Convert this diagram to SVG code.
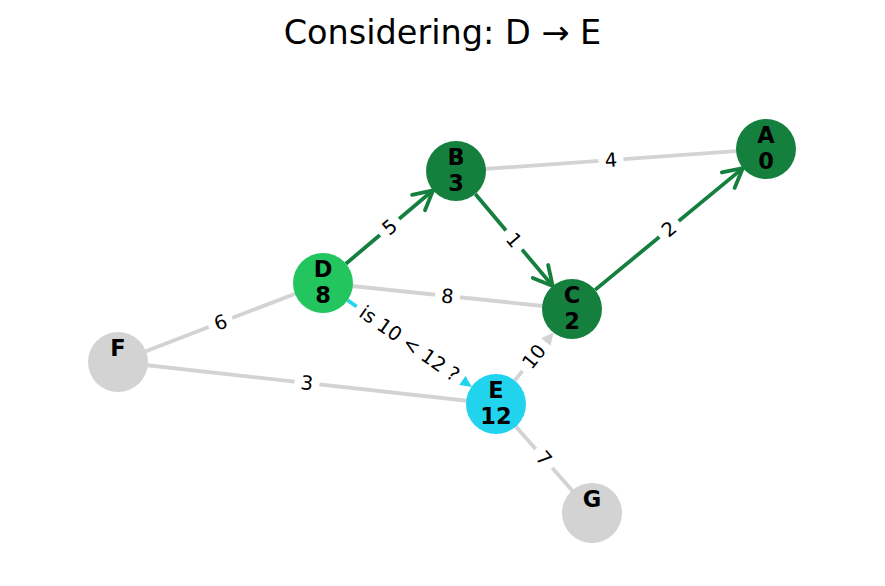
<svg xmlns="http://www.w3.org/2000/svg" width="885" height="586" viewBox="0 0 885 586">
<style>
  .title { font-family: "DejaVu Sans", sans-serif; font-size: 33.5px; fill: #000; }
  .nl { font-family: "DejaVu Sans", sans-serif; font-size: 22.5px; font-weight: bold; fill: #000; text-anchor: middle; }
  .el { font-family: "DejaVu Sans", sans-serif; font-size: 19.5px; fill: #000; text-anchor: middle; }
  .lbg { fill: #fff; stroke: #fff; }
  .gray { stroke: #d3d3d3; stroke-width: 3.8; fill: none; }
  .green { stroke: #15803d; stroke-width: 3.8; fill: none; }
  .cyan { stroke: #22d3ee; stroke-width: 3.8; fill: none; }
  .ndark { fill: #15803d; }
  .nlight { fill: #22c55e; }
  .ncyan { fill: #22d3ee; }
  .ngray { fill: #d3d3d3; }
</style>
<defs>
  <marker id="openG" markerUnits="userSpaceOnUse" viewBox="-24 -14 28 28" refX="0" refY="0" markerWidth="28" markerHeight="28" orient="auto">
    <path d="M-19,-10 L0,0 L-19,10" fill="none" stroke="#15803d" stroke-width="3.8" stroke-linejoin="round" stroke-linecap="round"/>
  </marker>
  <marker id="triC" markerUnits="userSpaceOnUse" viewBox="-2 -8 16 16" refX="2" refY="0" markerWidth="16" markerHeight="16" orient="auto">
    <path d="M0,-6 L12.5,0 L0,6 Z" fill="#22d3ee"/>
  </marker>
  <marker id="triG" markerUnits="userSpaceOnUse" viewBox="-2 -8 16 16" refX="2" refY="0" markerWidth="16" markerHeight="16" orient="auto">
    <path d="M0,-6 L12.5,0 L0,6 Z" fill="#d3d3d3"/>
  </marker>
</defs>
<rect width="885" height="586" fill="#fff"/>
<text class="title" x="442.5" y="44" text-anchor="middle">Considering: D → E</text>

<g id="connectors">
  <line class="gray" x1="456" y1="171" x2="766" y2="149"/>
  <line class="gray" x1="323" y1="283" x2="572" y2="309"/>
  <line class="gray" x1="118" y1="362" x2="323" y2="283"/>
  <line class="gray" x1="118" y1="362" x2="496" y2="404"/>
  <line class="gray" x1="496" y1="404" x2="592" y2="513"/>
  <line class="gray" x1="514.7" y1="380.6" x2="547.1" y2="340.4" marker-end="url(#triG)"/>
  <line class="green" x1="345.9" y1="263.7" x2="433.1" y2="190.3" marker-end="url(#openG)"/>
  <line class="green" x1="475.3" y1="194.0" x2="552.7" y2="286.0" marker-end="url(#openG)"/>
  <line class="green" x1="595.1" y1="289.9" x2="742.9" y2="168.1" marker-end="url(#openG)"/>
  <line class="cyan" x1="347.6" y1="300.2" x2="463.2" y2="381.1" marker-end="url(#triC)"/>

  <g transform="translate(611,160) rotate(-4.06)"><rect class="lbg" x="-12" y="-16" width="24" height="32" rx="5"/><text class="el" y="0" dy="0.35em">4</text></g>
  <g transform="translate(389.5,227) rotate(-40.1)"><rect class="lbg" x="-12" y="-16" width="24" height="32" rx="5"/><text class="el" y="0" dy="0.35em">5</text></g>
  <g transform="translate(514,240) rotate(49.9)"><rect class="lbg" x="-12" y="-16" width="24" height="32" rx="5"/><text class="el" y="0" dy="0.35em">1</text></g>
  <g transform="translate(669,229) rotate(-39.5)"><rect class="lbg" x="-12" y="-16" width="24" height="32" rx="5"/><text class="el" y="0" dy="0.35em">2</text></g>
  <g transform="translate(447.5,296) rotate(5.96)"><rect class="lbg" x="-12" y="-16" width="24" height="32" rx="5"/><text class="el" y="0" dy="0.35em">8</text></g>
  <g transform="translate(409.5,343.5) rotate(34.97)"><rect class="lbg" x="-64" y="-16" width="128" height="32" rx="5"/><text class="el" y="0" dy="0.35em">is 10 &lt; 12 ?</text></g>
  <g transform="translate(220.5,322.5) rotate(-21.07)"><rect class="lbg" x="-12" y="-16" width="24" height="32" rx="5"/><text class="el" y="0" dy="0.35em">6</text></g>
  <g transform="translate(307,383) rotate(6.34)"><rect class="lbg" x="-12" y="-16" width="24" height="32" rx="5"/><text class="el" y="0" dy="0.35em">3</text></g>
  <g transform="translate(534,356.5) rotate(-51.3)"><rect class="lbg" x="-18" y="-16" width="36" height="32" rx="5"/><text class="el" y="0" dy="0.35em">10</text></g>
  <g transform="translate(544,458.5) rotate(48.6)"><rect class="lbg" x="-12" y="-16" width="24" height="32" rx="5"/><text class="el" y="0" dy="0.35em">7</text></g>
</g>

<g id="node-A"><circle class="ndark" cx="766" cy="149" r="30"/><text class="nl" x="766" y="142.5">A</text><text class="nl" x="766" y="169">0</text></g>
<g id="node-B"><circle class="ndark" cx="456" cy="171" r="30"/><text class="nl" x="456" y="164.5">B</text><text class="nl" x="456" y="191">3</text></g>
<g id="node-C"><circle class="ndark" cx="572" cy="309" r="30"/><text class="nl" x="572" y="302.5">C</text><text class="nl" x="572" y="329">2</text></g>
<g id="node-D"><circle class="nlight" cx="323" cy="283" r="30"/><text class="nl" x="323" y="276.5">D</text><text class="nl" x="323" y="303">8</text></g>
<g id="node-E"><circle class="ncyan" cx="496" cy="404" r="30"/><text class="nl" x="496" y="397.5">E</text><text class="nl" x="496" y="424">12</text></g>
<g id="node-F"><circle class="ngray" cx="118" cy="362" r="30"/><text class="nl" x="118" y="355.5">F</text></g>
<g id="node-G"><circle class="ngray" cx="592" cy="513" r="30"/><text class="nl" x="592" y="506.5">G</text></g>
</svg>
